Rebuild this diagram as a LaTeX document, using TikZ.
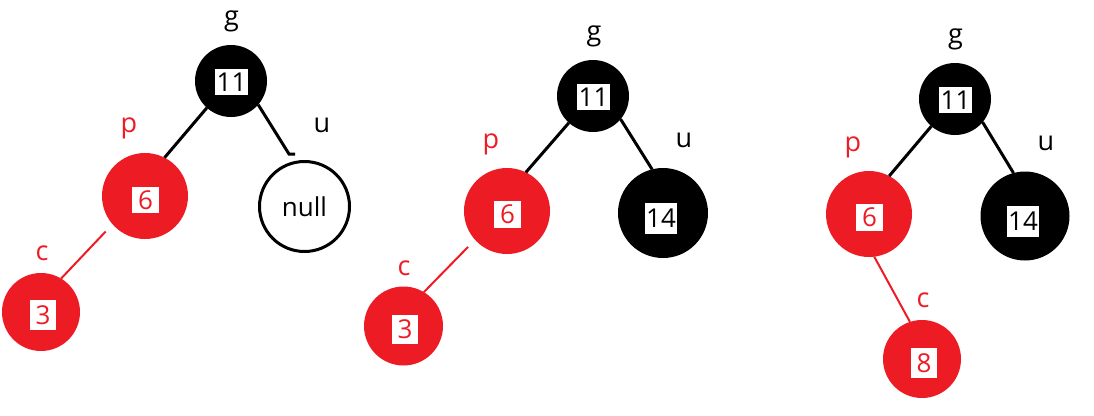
\documentclass[tikz,border=0pt]{standalone}
\usepackage{fontspec}
\setmainfont{Open Sans}
\definecolor{rbred}{HTML}{ED1C24}
\begin{document}
\begin{tikzpicture}[x=1pt,y=-1pt,
  blk/.style={circle,fill=black,inner sep=0pt,outer sep=0pt,minimum size=#1},
  rd/.style={circle,fill=rbred,inner sep=0pt,outer sep=0pt,minimum size=#1},
  nullnode/.style={circle,draw=black,line width=3pt,inner sep=0pt,outer sep=0pt,minimum size=90pt,font=\fontsize{26}{26}\selectfont},
  numbox/.style={fill=white,inner sep=0pt,outer sep=0pt,font=\fontsize{26}{26}\selectfont},
  lbl/.style={inner sep=0pt,font=\fontsize{27}{27}\selectfont},
  blkedge/.style={draw=black,line width=3pt},
  rededge/.style={draw=rbred,line width=2pt}]
\useasboundingbox (0,0) rectangle (1094,415);
% ---------- tree 1 ----------
\node[blk=72pt] (g1) at (231,81) {};
\node[numbox,minimum width=33pt,minimum height=26pt] (g1n) at (231.5,82) {11};
\node[rd=86pt] (p1) at (145,196) {};
\node[numbox,text=rbred,minimum width=27pt,minimum height=26pt] (p1n) at (145.5,200) {6};
\node[rd=78pt] (c1) at (41,312) {};
\node[numbox,text=rbred,minimum width=26pt,minimum height=30pt] (c1n) at (43,315) {3};
\node[nullnode] (u1) at (304.5,206.5) {null};
\node[lbl] (g1l) at (231.5,21) {g};
\node[lbl,text=rbred] (p1l) at (129,128) {p};
\node[lbl,text=rbred] (c1l) at (42,253) {c};
\node[lbl] (u1l) at (322,125) {u};
\coordinate (u1e) at (289,154);
\draw[blkedge] (g1.228) -- (p1.63);
\draw[blkedge] (g1.-41) -- (u1e) -- ++(6,0);
\draw[rededge,shorten <=10pt] (p1.221) -- (c1.59);
% ---------- tree 2 ----------
\node[blk=72pt] (g2) at (593,96) {};
\node[numbox,minimum width=33pt,minimum height=26pt] (g2n) at (593.5,97) {11};
\node[rd=86pt] (p2) at (507,211) {};
\node[numbox,text=rbred,minimum width=27pt,minimum height=27pt] (p2n) at (507.5,214.5) {6};
\node[rd=79pt] (c2) at (403.5,326) {};
\node[numbox,text=rbred,minimum width=26pt,minimum height=29pt] (c2n) at (405,329.5) {3};
\node[blk=90pt] (u2) at (663,213) {};
\node[numbox,minimum width=32pt,minimum height=31pt] (u2n) at (661,218) {14};
\node[lbl] (g2l) at (594,36) {g};
\node[lbl,text=rbred] (p2l) at (491,144) {p};
\node[lbl,text=rbred] (c2l) at (404,268) {c};
\node[lbl] (u2l) at (684,140) {u};
\draw[blkedge] (g2.228) -- (p2.64);
\draw[blkedge] (g2.-40) -- (u2.104);
\draw[rededge,shorten <=10pt] (p2.222) -- (c2.59);
% ---------- tree 3 ----------
\node[blk=72pt] (g3) at (955,99) {};
\node[numbox,minimum width=33pt,minimum height=26pt] (g3n) at (955.5,100) {11};
\node[rd=86pt] (p3) at (869,214) {};
\node[numbox,text=rbred,minimum width=27pt,minimum height=27pt] (p3n) at (869.5,217.5) {6};
\node[blk=89pt] (u3) at (1025,216) {};
\node[numbox,minimum width=32pt,minimum height=31pt] (u3n) at (1023,221.5) {14};
\node[rd=78pt] (c3) at (922,359) {};
\node[numbox,text=rbred,minimum width=26pt,minimum height=30pt] (c3n) at (924,363) {8};
\node[lbl] (g3l) at (955.5,39) {g};
\node[lbl,text=rbred] (p3l) at (853,147) {p};
\node[lbl] (u3l) at (1046,143.5) {u};
\node[lbl,text=rbred] (c3l) at (923,300.5) {c};
\draw[blkedge] (g3.229) -- (p3.62);
\draw[blkedge] (g3.-40) -- (u3.105);
\draw[rededge] (p3.-83.5) -- (c3.108);
\end{tikzpicture}
\end{document}
